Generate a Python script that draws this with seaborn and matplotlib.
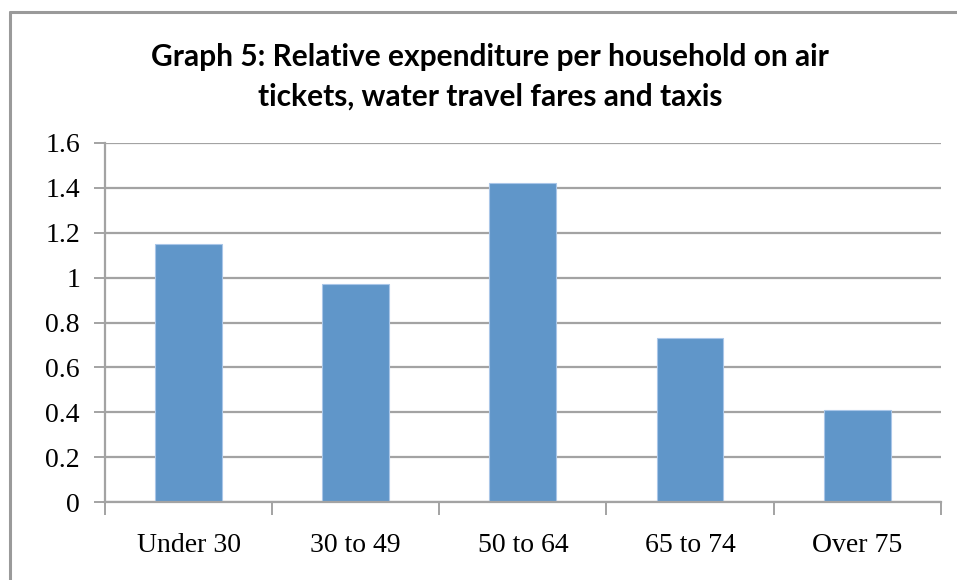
import matplotlib
matplotlib.use("Agg")
import matplotlib.pyplot as plt
from matplotlib.lines import Line2D
import seaborn as sns
import pandas as pd

# Household age groups and relative spending on air, water and taxi fares
age_groups = ["Under 30", "30 to 49", "50 to 64", "65 to 74", "Over 75"]
relative_spend = [1.15, 0.97, 1.42, 0.73, 0.41]
y_ticks = [0, 0.2, 0.4, 0.6, 0.8, 1, 1.2, 1.4, 1.6]
y_tick_labels = ["0", "0.2", "0.4", "0.6", "0.8", "1", "1.2", "1.4", "1.6"]
title_lines = ["Graph 5: Relative expenditure per household on air",
               "tickets, water travel fares and taxis"]

df = pd.DataFrame({"group": age_groups, "value": relative_spend})

sns.set_theme(style="white")
grid_col = "#a3a3a3"
bar_col = "#6096c9"

fig = plt.figure(figsize=(9.57, 5.80), dpi=100)
ax = fig.add_axes([105 / 957, 1 - 502.3 / 580, (940.7 - 105) / 957, (502.3 - 142.7) / 580])

sns.barplot(data=df, x="group", y="value", color=bar_col, width=0.4,
            saturation=1, edgecolor="#a9c6e8", linewidth=0.8, ax=ax, zorder=3)

ax.set_xlim(-0.5, len(age_groups) - 0.5)
ax.set_ylim(0, 1.6)
ax.set_yticks(y_ticks)
ax.set_yticklabels(y_tick_labels, fontfamily="Liberation Serif", fontsize=20, color="black")
ax.yaxis.grid(True, color=grid_col, linewidth=1.6, zorder=0)
ax.xaxis.grid(False)

# category labels centred, tick marks at category boundaries
ax.set_xticks(range(len(age_groups)))
ax.set_xticklabels(age_groups, fontfamily="Liberation Serif", fontsize=20, color="black")
ax.set_xticks([i - 0.5 for i in range(len(age_groups) + 1)], minor=True)
ax.tick_params(axis="x", which="major", length=0, pad=22)
ax.tick_params(axis="x", which="minor", length=9, width=1.4, color=grid_col, direction="out", bottom=True)
ax.tick_params(axis="y", length=8, width=1.4, color=grid_col, direction="out", left=True, pad=10)
ax.set_xlabel("")
ax.set_ylabel("")

for side in ["top", "right"]:
    ax.spines[side].set_visible(False)
for side in ["left", "bottom"]:
    ax.spines[side].set_color(grid_col)
    ax.spines[side].set_linewidth(1.6)
    ax.spines[side].set_zorder(4)

# chart frame (top and left edges)
fig.add_artist(Line2D([10 / 957, 10 / 957], [0, 1 - 12 / 580], transform=fig.transFigure,
                      color="#9a9a9a", linewidth=2.2))
fig.add_artist(Line2D([10 / 957, 1], [1 - 12 / 580, 1 - 12 / 580], transform=fig.transFigure,
                      color="#9a9a9a", linewidth=2.2))

fig.text(490 / 957, 1 - 57 / 580, title_lines[0], ha="center", va="center",
         fontfamily="Lato", fontweight="bold", fontsize=21.5, color="black")
fig.text(490 / 957, 1 - 97 / 580, title_lines[1], ha="center", va="center",
         fontfamily="Lato", fontweight="bold", fontsize=21.5, color="black")

fig.savefig("out.png", dpi=100, facecolor="white")
